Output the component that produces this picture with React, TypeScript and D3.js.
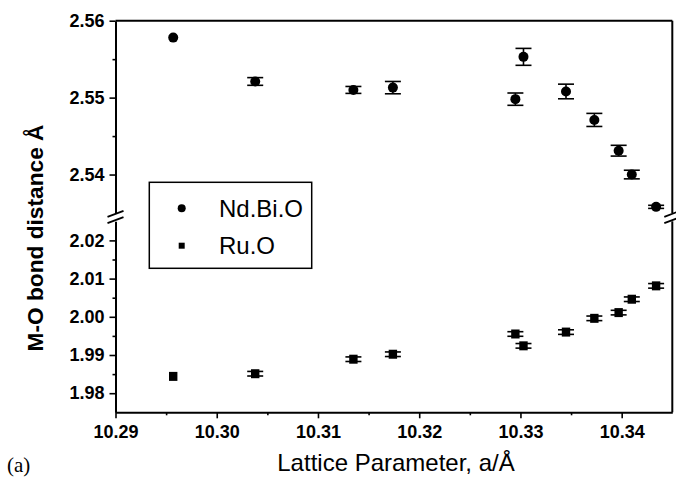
import React, { useEffect, useRef } from 'react';
import * as d3 from 'd3';

// lattice parameter (a / Å) of each sample, shared by both series
const lattice = [10.2957, 10.3038, 10.3135, 10.3174, 10.3295, 10.3303, 10.3345, 10.3373, 10.3397, 10.341, 10.3434];

// Nd.Bi.O bond distances and their errors
const ndBiO = [2.5578, 2.5521, 2.551, 2.5513, 2.5498, 2.5553, 2.5508, 2.5471, 2.5431, 2.54, 2.5358];
const ndBiOErr = [0, 0.0005, 0.00045, 0.0008, 0.0008, 0.0011, 0.00095, 0.00085, 0.0007, 0.00056, 0.0002];

// Ru.O bond distances and their errors
const ruO = [1.9844, 1.9851, 1.9889, 1.9902, 1.9955, 1.9924, 1.996, 1.9996, 2.0011, 2.0046, 2.0081];
const ruOErr = [0, 0.0006, 0.0006, 0.0006, 0.0006, 0.0006, 0.0006, 0.0006, 0.0006, 0.0006, 0.0006];

const xTicks = [10.29, 10.3, 10.31, 10.32, 10.33, 10.34];
const xMinor = [10.295, 10.305, 10.315, 10.325, 10.335];
const yTopTicks = [2.54, 2.55, 2.56];
const yTopMinor = [2.545, 2.555];
const yBotTicks = [1.98, 1.99, 2.0, 2.01, 2.02];
const yBotMinor = [1.985, 1.995, 2.005, 2.015];

const W = 676;
const H = 478;
const left = 115.5;
const right = 672.3;
const top = 20.7;
const bottom = 412.3;

const App = () => {
  const ref = useRef<SVGSVGElement>(null);

  useEffect(() => {
    const svg = d3.select(ref.current);
    svg.selectAll('*').remove();

    const font = '"Liberation Sans", Arial, sans-serif';

    const x = d3.scaleLinear().domain([10.29, 10.345]).range([left, right]);
    const yTop = d3.scaleLinear().domain([2.535, 2.56]).range([213, top]);
    const yBot = d3.scaleLinear().domain([1.975, 2.025]).range([bottom, 221.3]);

    const styleAxis = (g, size) => {
      g.selectAll('path.domain').attr('stroke', '#000').attr('stroke-width', 2);
      g.selectAll('.tick line').attr('stroke', '#000').attr('stroke-width', 1.6);
      g.selectAll('.tick text')
        .attr('font-family', font)
        .attr('font-weight', 'bold')
        .attr('font-size', size)
        .attr('fill', '#000');
    };

    // bottom axis
    const gx = svg.append('g')
      .attr('transform', `translate(0,${bottom})`)
      .call(d3.axisBottom(x).tickValues(xTicks).tickFormat(d3.format('.2f')).tickSize(6).tickPadding(7).tickSizeOuter(0));
    styleAxis(gx, 18);
    svg.append('g')
      .attr('transform', `translate(0,${bottom})`)
      .call(d3.axisBottom(x).tickValues(xMinor).tickFormat(() => '').tickSize(3).tickSizeOuter(0))
      .call(g => g.select('path.domain').remove())
      .call(g => styleAxis(g, 18));

    // left axis, two segments
    [[yTop, yTopTicks, yTopMinor], [yBot, yBotTicks, yBotMinor]].forEach(([sc, major, minor]: any) => {
      const g = svg.append('g')
        .attr('transform', `translate(${left},0)`)
        .call(d3.axisLeft(sc).tickValues(major).tickFormat(d3.format('.2f')).tickSize(6).tickPadding(5).tickSizeOuter(0));
      styleAxis(g, 18);
      svg.append('g')
        .attr('transform', `translate(${left},0)`)
        .call(d3.axisLeft(sc).tickValues(minor).tickFormat(() => '').tickSize(3).tickSizeOuter(0))
        .call(gg => gg.select('path.domain').remove())
        .call(gg => styleAxis(gg, 18));
    });

    // top and right frame
    svg.append('line')
      .attr('x1', left).attr('x2', right).attr('y1', top).attr('y2', top)
      .attr('stroke', '#000').attr('stroke-width', 2);
    [yTop, yBot].forEach(sc => {
      const [r0, r1] = sc.range();
      svg.append('line')
        .attr('x1', right).attr('x2', right).attr('y1', r0).attr('y2', r1)
        .attr('stroke', '#000').attr('stroke-width', 2);
    });

    // break marks
    [left, right].forEach(bx => {
      [213.8, 220.2].forEach(by => {
        svg.append('line')
          .attr('x1', bx - 8).attr('y1', by + 3)
          .attr('x2', bx + 8).attr('y2', by - 3)
          .attr('stroke', '#000').attr('stroke-width', 1.8);
      });
    });

    // error bars + markers
    const drawErr = (vals, errs, sc) => {
      const g = svg.append('g').attr('stroke', '#000').attr('stroke-width', 1.6);
      vals.forEach((v, i) => {
        const e = errs[i];
        if (!e) return;
        const cx = x(lattice[i]);
        const y0 = sc(v - e);
        const y1 = sc(v + e);
        g.append('line').attr('x1', cx).attr('x2', cx).attr('y1', y0).attr('y2', y1);
        g.append('line').attr('x1', cx - 8).attr('x2', cx + 8).attr('y1', y0).attr('y2', y0);
        g.append('line').attr('x1', cx - 8).attr('x2', cx + 8).attr('y1', y1).attr('y2', y1);
      });
    };
    drawErr(ndBiO, ndBiOErr, yTop);
    drawErr(ruO, ruOErr, yBot);

    svg.append('g')
      .selectAll('circle')
      .data(ndBiO)
      .enter().append('circle')
      .attr('cx', (d, i) => x(lattice[i]))
      .attr('cy', d => yTop(d))
      .attr('r', 5)
      .attr('fill', '#000');

    svg.append('g')
      .selectAll('rect')
      .data(ruO)
      .enter().append('rect')
      .attr('x', (d, i) => x(lattice[i]) - 4.2)
      .attr('y', d => yBot(d) - 4.5)
      .attr('width', 8.4)
      .attr('height', 9)
      .attr('fill', '#000');

    // legend
    const legend = svg.append('g');
    legend.append('rect')
      .attr('x', 149.3).attr('y', 182.3).attr('width', 162.4).attr('height', 86)
      .attr('fill', '#fff').attr('stroke', '#000').attr('stroke-width', 1.5);
    legend.append('circle').attr('cx', 181.7).attr('cy', 208.3).attr('r', 4).attr('fill', '#000');
    legend.append('rect').attr('x', 178.7).attr('y', 242.7).attr('width', 6).attr('height', 6).attr('fill', '#000');
    legend.append('text').attr('x', 219).attr('y', 216.5)
      .attr('font-family', font).attr('font-size', 24).text('Nd.Bi.O');
    legend.append('text').attr('x', 219).attr('y', 254)
      .attr('font-family', font).attr('font-size', 24).text('Ru.O');

    // axis titles
    svg.append('text')
      .attr('x', 396).attr('y', 471)
      .attr('text-anchor', 'middle')
      .attr('font-family', font).attr('font-size', 24)
      .text('Lattice Parameter, a/Å');

    svg.append('text')
      .attr('transform', 'translate(42.5,238) rotate(-90)')
      .attr('text-anchor', 'middle')
      .attr('font-family', font).attr('font-weight', 'bold').attr('font-size', 22.7)
      .text('M-O bond distance Å');

    svg.append('text')
      .attr('x', 7).attr('y', 472)
      .attr('font-family', '"Liberation Serif", "Times New Roman", serif').attr('font-size', 21)
      .text('(a)');
  }, []);

  return (
    <svg
      ref={ref}
      width={W}
      height={H}
      style={{ position: 'absolute', left: 0, top: 0, background: '#fff' }}
    ></svg>
  );
};

export default App;
